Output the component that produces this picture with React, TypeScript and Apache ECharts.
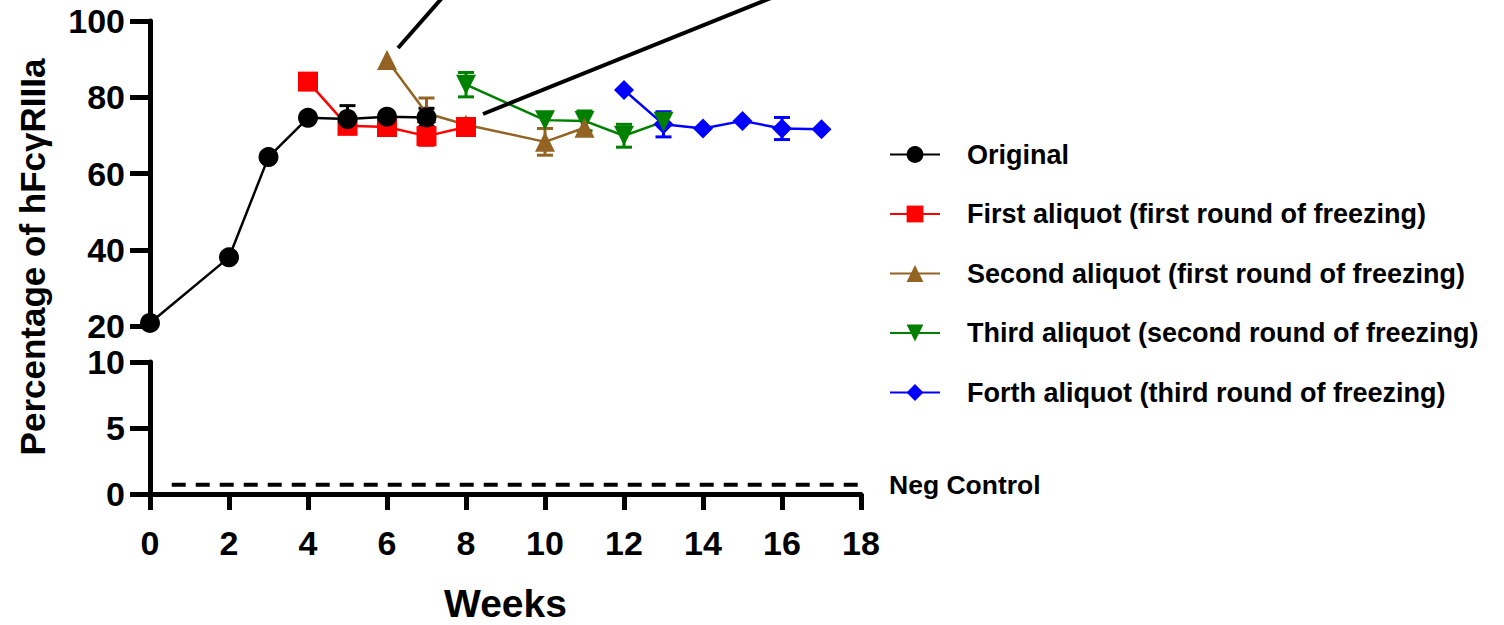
import React, { useEffect, useRef } from "react";
import * as echarts from "echarts";

const FONT = '"Liberation Sans", Arial, Helvetica, sans-serif';

// Upper segment of the broken y axis (percent) and lower segment
const upperRange = [20, 100];
const lowerRange = [0, 10];
const weekRange = [0, 18];

// Original
const originalWeeks = [0, 2, 3, 4, 5, 6, 7];
const originalMean = [20.8, 38.0, 64.3, 74.6, 74.3, 74.9, 74.7];
const originalErr = [0, 0, 0, 0, 3.5, 0, 2.4];

// First aliquot (first round of freezing)
const firstWeeks = [4, 5, 6, 7, 8];
const firstMean = [84.1, 72.5, 72.2, 69.8, 72.2];
const firstErr = [2.0, 1.5, 0, 2.4, 0];

// Second aliquot (first round of freezing)
const secondWeeks = [6, 7, 8, 10, 11];
const secondMean = [89.8, 75.8, 72.8, 68.3, 72.0];
const secondErr = [0, 4.0, 0, 3.5, 0];

// Third aliquot (second round of freezing)
const thirdWeeks = [8, 10, 11, 12, 13];
const thirdMean = [83.3, 74.0, 73.8, 69.9, 73.6];
const thirdErr = [3.2, 0, 2.6, 3.0, 0];

// Forth aliquot (third round of freezing)
const forthWeeks = [12, 13, 14, 15, 16, 17];
const forthMean = [81.9, 72.9, 71.8, 73.8, 71.8, 71.6];
const forthErr = [0, 3.3, 0, 0, 2.9, 0];

// Negative control level, drawn as a dashed reference line
const negControlWeeks = [0.55, 18];
const negControlValue = [0.7, 0.7];

const DOWN_TRIANGLE = "path://M0,0L2,0L1,2Z";

type Group = {
  name: string;
  color: string;
  symbol: string;
  weeks: number[];
  mean: number[];
  err: number[];
};

const groups: Group[] = [
  { name: "Original", color: "#000000", symbol: "circle", weeks: originalWeeks, mean: originalMean, err: originalErr },
  { name: "First aliquot (first round of freezing)", color: "#ff0000", symbol: "rect", weeks: firstWeeks, mean: firstMean, err: firstErr },
  { name: "Second aliquot (first round of freezing)", color: "#926322", symbol: "triangle", weeks: secondWeeks, mean: secondMean, err: secondErr },
  { name: "Third aliquot (second round of freezing)", color: "#008000", symbol: DOWN_TRIANGLE, weeks: thirdWeeks, mean: thirdMean, err: thirdErr },
  { name: "Forth aliquot (third round of freezing)", color: "#0000ff", symbol: "diamond", weeks: forthWeeks, mean: forthMean, err: forthErr },
];

function errorBar(color: string) {
  return (_params: any, api: any) => {
    const x = api.value(0);
    const y = api.value(1);
    const e = api.value(2);
    if (!e) return null;
    const top = api.coord([x, y + e]);
    const bot = api.coord([x, y - e]);
    const hw = 8;
    const style = { stroke: color, lineWidth: 3 };
    return {
      type: "group",
      children: [
        { type: "line", shape: { x1: top[0], y1: top[1], x2: bot[0], y2: bot[1] }, style },
        { type: "line", shape: { x1: top[0] - hw, y1: top[1], x2: top[0] + hw, y2: top[1] }, style },
        { type: "line", shape: { x1: bot[0] - hw, y1: bot[1], x2: bot[0] + hw, y2: bot[1] }, style },
      ],
    };
  };
}

export default function App() {
  const ref = useRef<HTMLDivElement>(null);

  useEffect(() => {
    if (!ref.current) return;
    const chart = echarts.init(ref.current, null, { renderer: "svg" });

    const axisText = {
      color: "#000",
      fontFamily: FONT,
      fontWeight: "bold" as const,
      fontSize: 34,
      lineHeight: 30,
    };
    const axisLine = { show: true, lineStyle: { color: "#000", width: 5 } };

    const series: any[] = [];
    // Drawn last-to-first so that "Original" ends up on top
    [...groups].reverse().forEach((g) => {
      series.push({
        type: "custom",
        name: g.name + " error",
        xAxisIndex: 0,
        yAxisIndex: 0,
        silent: true,
        data: g.weeks.map((w, i) => [w, g.mean[i], g.err[i]]),
        encode: { x: 0, y: 1 },
        renderItem: errorBar(g.color),
      });
      series.push({
        type: "line",
        name: g.name,
        xAxisIndex: 0,
        yAxisIndex: 0,
        clip: false,
        data: g.weeks.map((w, i) => [w, g.mean[i]]),
        symbol: g.symbol,
        symbolSize: 20,
        itemStyle: { color: g.color },
        lineStyle: { color: g.color, width: 2.5 },
      });
    });

    series.push({
      type: "line",
      name: "Neg Control",
      xAxisIndex: 1,
      yAxisIndex: 1,
      silent: true,
      symbol: "none",
      data: negControlWeeks.map((w, i) => [w, negControlValue[i]]),
      lineStyle: { color: "#000", width: 4, type: [14, 10] },
      endLabel: {
        show: true,
        formatter: "Neg Control",
        distance: 28,
        color: "#000",
        fontFamily: FONT,
        fontWeight: "bold",
        fontSize: 26.5,
      },
    });

    chart.setOption({
      animation: false,
      backgroundColor: "#ffffff",
      grid: [
        { left: 150, width: 711, top: 21, height: 305 },
        { left: 150, width: 711, top: 362, height: 132 },
      ],
      xAxis: [
        { type: "value", gridIndex: 0, min: weekRange[0], max: weekRange[1], interval: 2, show: false },
        {
          type: "value",
          gridIndex: 1,
          min: weekRange[0],
          max: weekRange[1],
          interval: 2,
          axisLine,
          axisTick: { show: true, length: 16, lineStyle: { color: "#000", width: 5 } },
          axisLabel: { ...axisText, margin: 34 },
          splitLine: { show: false },
          name: "Weeks",
          nameLocation: "middle",
          nameGap: 90,
          nameTextStyle: { color: "#000", fontFamily: FONT, fontWeight: "bold", fontSize: 39 },
        },
      ],
      yAxis: [
        {
          type: "value",
          gridIndex: 0,
          min: upperRange[0],
          max: upperRange[1],
          interval: 20,
          axisLine,
          axisTick: { show: true, length: 20, lineStyle: { color: "#000", width: 5 } },
          axisLabel: { ...axisText, margin: 25 },
          splitLine: { show: false },
        },
        {
          type: "value",
          gridIndex: 1,
          min: lowerRange[0],
          max: lowerRange[1],
          interval: 5,
          axisLine,
          axisTick: { show: true, length: 20, lineStyle: { color: "#000", width: 5 } },
          axisLabel: { ...axisText, margin: 25 },
          splitLine: { show: false },
        },
      ],
      legend: {
        data: groups.map((g) => g.name),
        orient: "vertical",
        left: 884,
        top: 136,
        itemWidth: 50,
        itemHeight: 21,
        itemGap: 32.5,
        selectedMode: false,
        textStyle: {
          color: "#000",
          fontFamily: FONT,
          fontWeight: "bold",
          fontSize: 27,
          lineHeight: 27,
          padding: [0, 0, 0, 22],
        },
      },
      graphic: [
        {
          type: "text",
          x: 32,
          y: 257,
          rotation: Math.PI / 2,
          style: {
            text: "Percentage of hFcγRIIIa",
            fill: "#000",
            font: `bold 35px ${FONT}`,
            textAlign: "center",
            textVerticalAlign: "middle",
          },
        },
        // pointer strokes leaving the top of the plot
        { type: "line", shape: { x1: 398, y1: 48, x2: 442, y2: -2 }, style: { stroke: "#000", lineWidth: 4 }, z: 10 },
        { type: "line", shape: { x1: 483, y1: 114, x2: 771, y2: -2 }, style: { stroke: "#000", lineWidth: 4 }, z: 10 },
      ],
      series,
    });

    return () => chart.dispose();
  }, []);

  return (
    <div
      ref={ref}
      style={{ position: "fixed", left: 0, top: 0, width: 1504, height: 625, background: "#fff" }}
    />
  );
}
